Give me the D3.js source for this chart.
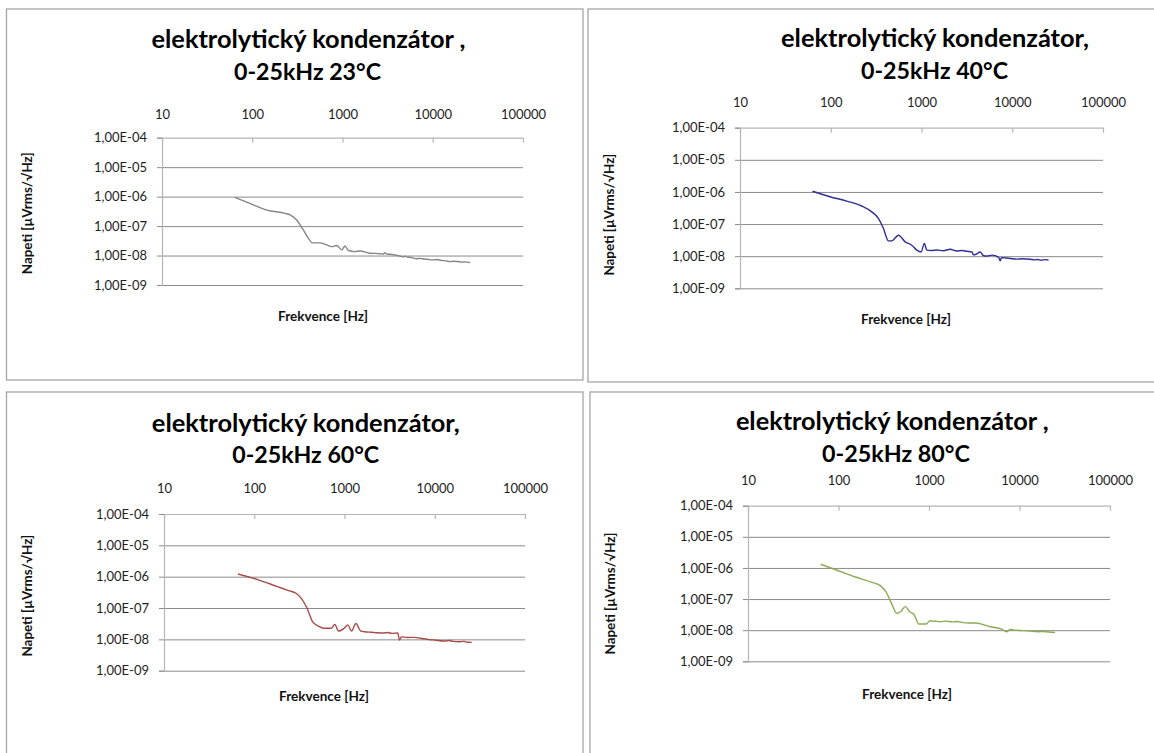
<!DOCTYPE html>
<html>
<head>
<meta charset="utf-8">
<script src="https://cdn.jsdelivr.net/npm/d3@7"></script>
<style>
  html, body { margin: 0; padding: 0; background: #ffffff; }
  svg { display: block; }
  text { font-family: Lato, "Noto Sans", "DejaVu Sans", sans-serif; }
</style>
</head>
<body>
<svg id="chart" width="1154" height="753"></svg>
<script>
// ---------- data ----------
const xTickValues = [10, 100, 1000, 10000, 100000];
const xTickLabels = ["10", "100", "1000", "10000", "100000"];
const yTickValues = [1e-4, 1e-5, 1e-6, 1e-7, 1e-8, 1e-9];
const yTickLabels = ["1,00E-04", "1,00E-05", "1,00E-06", "1,00E-07", "1,00E-08", "1,00E-09"];

const titleLine1 = ["elektrolytický kondenzátor ,", "elektrolytický kondenzátor,", "elektrolytický kondenzátor,", "elektrolytický kondenzátor ,"];
const titleLine2 = ["0-25kHz 23°C", "0-25kHz 40°C", "0-25kHz 60°C", "0-25kHz 80°C"];
const xAxisTitle = "Frekvence [Hz]";
const yAxisTitle = "Napeti [µVrms/√Hz]";

const freq23 = [64, 94, 145, 231, 262, 310, 368, 418, 462, 563, 668, 759, 862, 980, 1066, 1160, 1375, 1563, 2017, 2300, 2600, 2832, 2950, 3100, 3358, 3800, 4200, 4720, 5000, 5300, 5600, 6000, 6637, 7200, 8000, 9000, 10140, 11000, 12500, 14000, 15520, 17000, 19000, 21000, 23000, 25880];
const nap23  = [9.5e-7, 5.9e-7, 3.5e-7, 2.7e-7, 2.4e-7, 1.6e-7, 7.4e-8, 3.9e-8, 2.7e-8, 2.7e-8, 2.3e-8, 2.0e-8, 2.2e-8, 1.56e-8, 2.1e-8, 1.48e-8, 1.36e-8, 1.43e-8, 1.2e-8, 1.18e-8, 1.15e-8, 1.13e-8, 1.25e-8, 1.12e-8, 1.1e-8, 1.04e-8, 9.8e-9, 9.1e-9, 9.4e-9, 8.8e-9, 8.8e-9, 8.3e-9, 7.8e-9, 8.0e-9, 7.6e-9, 7.3e-9, 7.1e-9, 7.3e-9, 6.8e-9, 6.6e-9, 6.2e-9, 6.4e-9, 6.3e-9, 6.0e-9, 6.1e-9, 5.8e-9];

const freq40 = [63, 98, 150, 220, 283, 335, 380, 432, 470, 557, 660, 781, 887, 990, 1077, 1143, 1300, 1474, 1750, 2066, 2448, 2800, 3160, 3600, 3735, 4000, 4430, 4800, 5250, 6000, 7080, 7360, 7600, 8500, 9500, 11220, 13000, 15740, 17500, 19000, 21000, 23000, 25120];
const nap40  = [1.05e-6, 7.1e-7, 5.2e-7, 3.65e-7, 2.4e-7, 1.5e-7, 7.4e-8, 3.0e-8, 3.0e-8, 4.5e-8, 2.8e-8, 2.2e-8, 1.55e-8, 1.35e-8, 2.5e-8, 1.55e-8, 1.5e-8, 1.55e-8, 1.48e-8, 1.64e-8, 1.45e-8, 1.5e-8, 1.42e-8, 1.35e-8, 1.1e-8, 1.15e-8, 1.35e-8, 1.05e-8, 1.01e-8, 1.08e-8, 9.2e-9, 7.2e-9, 9.0e-9, 8.8e-9, 8.5e-9, 8.1e-9, 8.3e-9, 8.0e-9, 7.7e-9, 7.9e-9, 7.5e-9, 7.8e-9, 7.6e-9];

const freq60 = [66, 113, 181, 240, 290, 334, 385, 444, 512, 589, 711, 782, 859, 989, 1089, 1197, 1337, 1513, 1662, 2000, 2315, 2700, 3000, 3375, 3890, 4075, 4270, 5000, 5950, 7000, 8690, 10000, 12680, 14500, 16000, 18450, 21000, 23000, 25700];
const nap60  = [1.22e-6, 7.8e-7, 4.8e-7, 3.6e-7, 2.95e-7, 2.0e-7, 9.8e-8, 3.6e-8, 2.66e-8, 2.25e-8, 2.25e-8, 3.0e-8, 1.84e-8, 2.25e-8, 2.9e-8, 1.84e-8, 3.2e-8, 1.84e-8, 1.75e-8, 1.68e-8, 1.62e-8, 1.6e-8, 1.65e-8, 1.55e-8, 1.6e-8, 9.5e-9, 1.2e-8, 1.15e-8, 1.16e-8, 1.08e-8, 9.8e-9, 9.5e-9, 8.9e-9, 9.2e-9, 8.6e-9, 8.4e-9, 8.6e-9, 8.1e-9, 8.0e-9];

const freq80 = [63.5, 95, 151, 240, 290, 334, 385, 441, 484, 547, 612, 683, 771, 931, 1021, 1175, 1350, 1553, 1800, 2051, 2400, 2716, 3270, 4000, 4750, 5500, 6280, 7220, 7920, 9000, 10990, 13000, 15960, 18500, 21000, 24700];
const nap80  = [1.31e-6, 8.6e-7, 5.2e-7, 3.36e-7, 2.7e-7, 1.72e-7, 7.3e-8, 3.5e-8, 3.9e-8, 5.7e-8, 3.9e-8, 3.2e-8, 1.58e-8, 1.58e-8, 2.0e-8, 1.93e-8, 1.88e-8, 1.95e-8, 1.85e-8, 1.9e-8, 1.75e-8, 1.7e-8, 1.7e-8, 1.5e-8, 1.29e-8, 1.2e-8, 1.1e-8, 8.9e-9, 1.05e-8, 1.0e-8, 9.7e-9, 9.4e-9, 8.9e-9, 9.1e-9, 8.7e-9, 8.5e-9];

// ---------- layout (code, not data) ----------
const panels = [
  { frame: [6.5, 9, 583, 380], plot: [162, 523, 137.7, 285], col: "#858585", f: freq23, v: nap23,
    t1: [308.5, 48, 314], t2: [307.5, 80, 147], yt: [27.7, 213.3], xt: [323, 316], lblGap: 18.7 },
  { frame: [588, 9, 1170, 382], plot: [740, 1103, 127.7, 288.3], col: "#2e2e96", f: freq40, v: nap40,
    t1: [935, 46.7, 308], t2: [934.5, 79.3, 147], yt: [609.3, 214.7], xt: [906, 319], lblGap: 20.4 },
  { frame: [6.5, 392, 583, 770], plot: [164, 525, 514, 670.7], col: "#a84b4b", f: freq60, v: nap60,
    t1: [305.8, 431.7, 308], t2: [305.7, 463.3, 147], yt: [27.7, 595.6], xt: [324, 696.7], lblGap: 20.7 },
  { frame: [590, 392, 1170, 770], plot: [748, 1110, 505.7, 661.3], col: "#8caa56", f: freq80, v: nap80,
    t1: [892.3, 430, 313], t2: [896, 462.3, 148], yt: [610, 593.5], xt: [907, 694.3], lblGap: 20.7 }
];

const svg = d3.select("#chart");

function fit(sel, target) {
  const w = sel.node().getComputedTextLength();
  const fs = parseFloat(sel.attr("font-size"));
  sel.attr("font-size", (fs * target / w).toFixed(2));
}

panels.forEach((p, i) => {
  const g = svg.append("g");
  g.append("rect")
    .attr("x", p.frame[0]).attr("y", p.frame[1])
    .attr("width", p.frame[2] - p.frame[0]).attr("height", p.frame[3] - p.frame[1])
    .attr("fill", "none").attr("stroke", "#a6a6a6").attr("stroke-width", 1.3);

  const [L, R, T, B] = p.plot;
  const x = d3.scaleLog().domain([10, 100000]).range([L, R]);
  const y = d3.scaleLog().domain([1e-9, 1e-4]).range([B, T]);

  g.append("g").attr("transform", `translate(${L},0)`)
    .call(d3.axisLeft(y).tickValues(yTickValues.slice(1)).tickSize(-(R - L)).tickFormat(""))
    .call(s => s.select(".domain").remove())
    .call(s => s.selectAll("line").attr("stroke", "#8a8a8a").attr("stroke-width", 1));

  const yAx = g.append("g").attr("transform", `translate(${L},0)`)
    .call(d3.axisLeft(y).tickValues(yTickValues).tickSize(5).tickPadding(10)
      .tickFormat((d, k) => yTickLabels[k]));
  yAx.select(".domain").attr("stroke", "#b5b5b5").attr("stroke-width", 1.2);
  yAx.selectAll(".tick line").attr("stroke", "#8a8a8a");
  yAx.selectAll(".tick text").attr("font-size", 13).attr("fill", "#1e1e1e")
    .attr("font-family", "Lato, 'Noto Sans', sans-serif");

  const xAx = g.append("g").attr("transform", `translate(0,${T})`)
    .call(d3.axisTop(x).tickValues(xTickValues).tickSizeInner(-5).tickSizeOuter(0).tickPadding(p.lblGap)
      .tickFormat((d, k) => xTickLabels[k]));
  xAx.select(".domain").attr("stroke", "#b5b5b5").attr("stroke-width", 1.2);
  xAx.selectAll(".tick line").attr("stroke", "#b5b5b5").attr("stroke-width", 1.2);
  xAx.selectAll(".tick text").attr("font-size", 13).attr("fill", "#1e1e1e")
    .attr("font-family", "Lato, 'Noto Sans', sans-serif");

  const line = d3.line().x(d => x(d[0])).y(d => y(d[1])).curve(d3.curveMonotoneX);
  g.append("path").datum(d3.zip(p.f, p.v))
    .attr("d", line).attr("fill", "none")
    .attr("stroke", p.col).attr("stroke-width", 1.4).attr("stroke-linejoin", "round");

  const t1 = g.append("text").attr("x", p.t1[0]).attr("y", p.t1[1])
    .attr("text-anchor", "middle").attr("font-weight", "bold").attr("font-size", 22)
    .attr("fill", "#000").text(titleLine1[i]);
  fit(t1, p.t1[2]);
  const t2 = g.append("text").attr("x", p.t2[0]).attr("y", p.t2[1])
    .attr("text-anchor", "middle").attr("font-weight", "bold").attr("font-size", 22)
    .attr("fill", "#000").text(titleLine2[i]);
  fit(t2, p.t2[2]);

  const xt = g.append("text").attr("x", p.xt[0]).attr("y", p.xt[1]).attr("dy", "0.35em")
    .attr("text-anchor", "middle").attr("font-weight", "bold").attr("font-size", 12)
    .attr("fill", "#111").text(xAxisTitle);
  fit(xt, 90);
  const yt = g.append("text")
    .attr("transform", `translate(${p.yt[0]},${p.yt[1]}) rotate(-90)`).attr("dy", "0.35em")
    .attr("text-anchor", "middle").attr("font-weight", "bold").attr("font-size", 12)
    .attr("fill", "#111").text(yAxisTitle);
  fit(yt, 122);
});
</script>
</body>
</html>
